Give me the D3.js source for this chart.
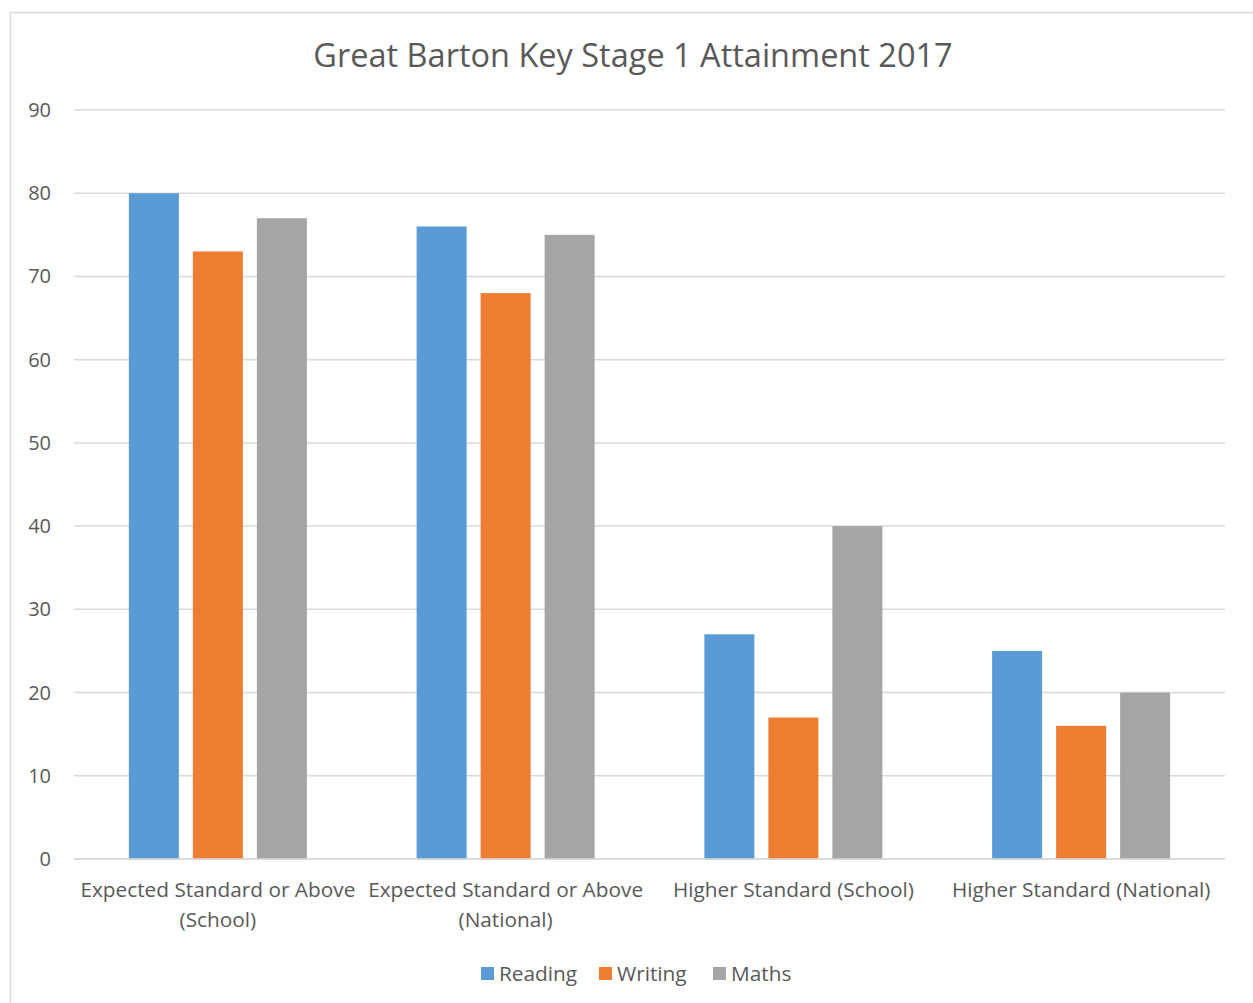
<!DOCTYPE html>
<html>
<head>
<meta charset="utf-8">
<script src="https://cdn.jsdelivr.net/npm/d3@7"></script>
<style>
  body { margin: 0; background: #fff; }
  text { font-family: "Open Sans", sans-serif; fill: #595959; }
</style>
</head>
<body>
<div id="chart"></div>
<script>
var categories = [
  ["Expected Standard or Above", "(School)"],
  ["Expected Standard or Above", "(National)"],
  ["Higher Standard (School)"],
  ["Higher Standard (National)"]
];
var series = ["Reading", "Writing", "Maths"];
var reading = [80, 76, 27, 25];
var writing = [73, 68, 17, 16];
var maths = [77, 75, 40, 20];
var yTicks = [0, 10, 20, 30, 40, 50, 60, 70, 80, 90];
var colors = ["#5b9bd5", "#ed7d31", "#a5a5a5"];

var values = [reading, writing, maths];
var width = 1253, height = 1003;
var plotLeft = 74, plotRight = 1225, plotTop = 110, plotBottom = 859;

var svg = d3.select("#chart")
  .append("svg")
  .attr("width", width)
  .attr("height", height);

// chart border
svg.append("rect")
  .attr("x", 10.5)
  .attr("y", 12.5)
  .attr("width", 1260)
  .attr("height", 1010)
  .style("fill", "none")
  .style("stroke", "#d9d9d9")
  .style("stroke-width", 1.5);

svg.append("text")
  .attr("x", 633)
  .attr("y", 67)
  .attr("text-anchor", "middle")
  .style("font-size", "32.5px")
  .text("Great Barton Key Stage 1 Attainment 2017");

var y = d3.scaleLinear().domain([0, 90]).range([plotBottom, plotTop]);
var x0 = d3.scaleBand().domain(d3.range(categories.length)).range([plotLeft, plotRight]).padding(0);
var half = 89;
var x1 = d3.scaleBand().domain(series)
  .range([x0.bandwidth() / 2 - half, x0.bandwidth() / 2 + half])
  .paddingInner(14 / 64).paddingOuter(0);

// gridlines
svg.append("g").selectAll("line")
  .data(yTicks)
  .enter().append("line")
  .attr("x1", plotLeft)
  .attr("x2", plotRight)
  .attr("y1", function(d) { return y(d); })
  .attr("y2", function(d) { return y(d); })
  .style("stroke", "#d9d9d9")
  .style("stroke-width", 1.5);

svg.append("g").selectAll("text")
  .data(yTicks)
  .enter().append("text")
  .attr("x", 51)
  .attr("y", function(d) { return y(d) + 7; })
  .attr("text-anchor", "end")
  .style("font-size", "20px")
  .text(function(d) { return d; });

// bars
series.forEach(function(s, si) {
  svg.append("g").selectAll("rect")
    .data(values[si])
    .enter().append("rect")
    .attr("x", function(d, i) { return x0(i) + x1(s); })
    .attr("y", function(d) { return y(d); })
    .attr("width", x1.bandwidth())
    .attr("height", function(d) { return y(0) - y(d); })
    .style("fill", colors[si]);
});

// redraw baseline over bars
svg.append("line")
  .attr("x1", plotLeft).attr("x2", plotRight)
  .attr("y1", y(0)).attr("y2", y(0))
  .style("stroke", "#d9d9d9")
  .style("stroke-width", 1.5);

// category labels
categories.forEach(function(lines, i) {
  var t = svg.append("text")
    .attr("x", x0(i) + x0.bandwidth() / 2)
    .attr("y", 897)
    .attr("text-anchor", "middle")
    .style("font-size", "20.8px");
  lines.forEach(function(l, li) {
    t.append("tspan")
      .attr("x", x0(i) + x0.bandwidth() / 2)
      .attr("dy", li === 0 ? 0 : 30)
      .text(l);
  });
});

// legend
var legendX = [481, 599, 713];
series.forEach(function(s, i) {
  svg.append("rect")
    .attr("x", legendX[i])
    .attr("y", 967)
    .attr("width", 13)
    .attr("height", 13)
    .style("fill", colors[i]);
  svg.append("text")
    .attr("x", legendX[i] + 18)
    .attr("y", 981)
    .style("font-size", "20.8px")
    .text(s);
});
</script>
</body>
</html>
